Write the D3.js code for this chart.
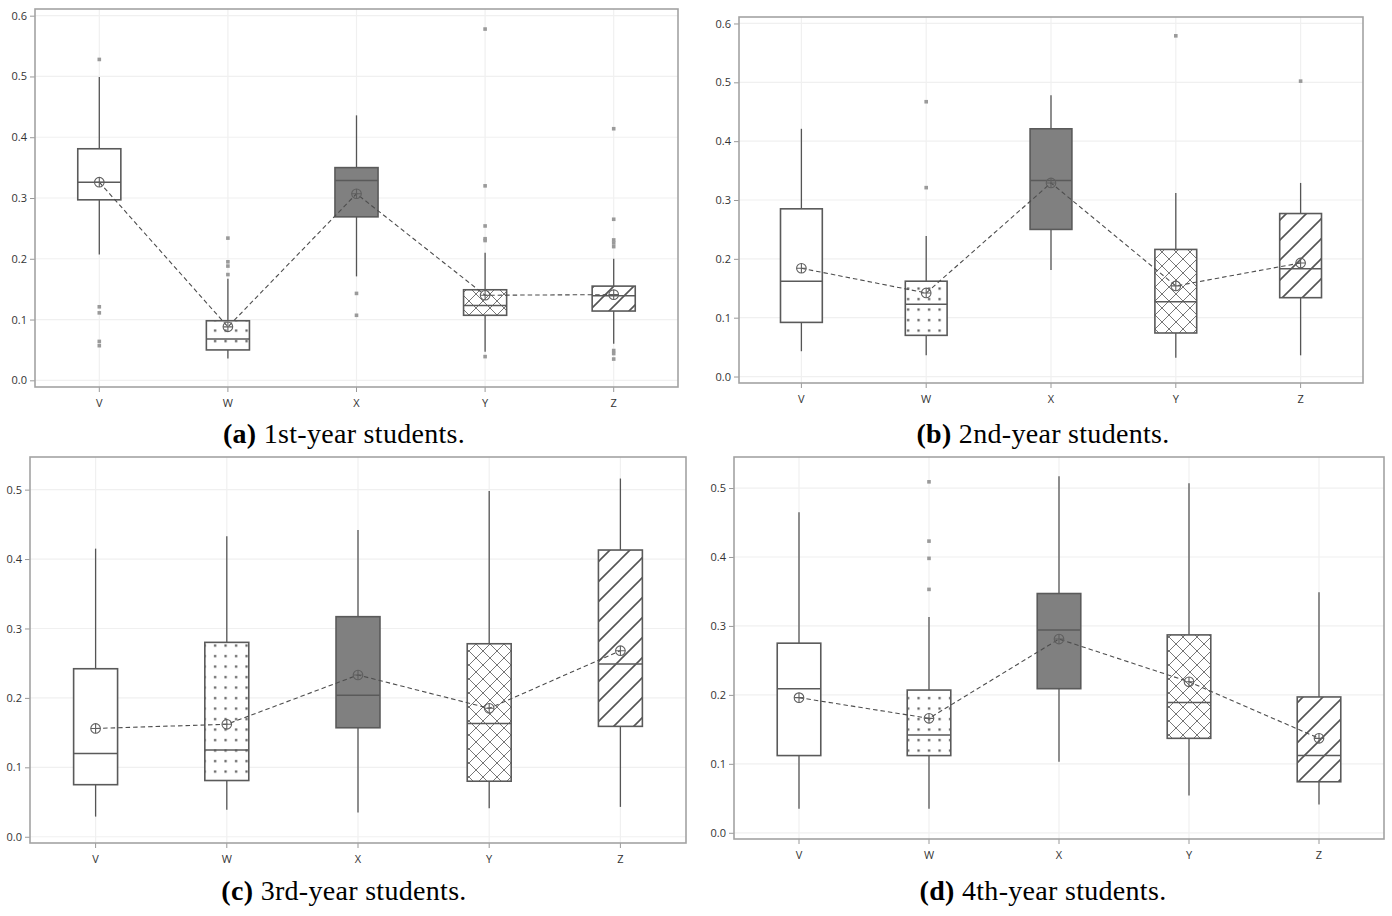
<!DOCTYPE html>
<html>
  <head>
    <meta charset="utf-8">
    <title>Box plots by year</title>
    <style>
      body { margin: 0; background: #fff; }
      .tick-label { font-family: "Open Sans", "DejaVu Sans", sans-serif; font-size: 11px; fill: #333; }
      .caption { font-family: "Liberation Serif", "Times New Roman", serif; font-size: 28px; letter-spacing: 0.3px; fill: #000; }
    </style>
  </head>
  <body>
    <svg id="chart" width="1392" height="916"></svg>
    <script src="https://d3js.org/d3.v7.min.js"></script>
    <script>
      // categories shared by all four panels
      const categories = ["V", "W", "X", "Y", "Z"];
      const fills = ["none", "url(#dots)", "#808080", "url(#cross)", "url(#hatch)"];

      // (a) 1st-year
      const lowA  = [0.207, 0.036, 0.171, 0.047, 0.060];
      const q1A   = [0.297, 0.050, 0.269, 0.107, 0.114];
      const medA  = [0.326, 0.068, 0.329, 0.123, 0.139];
      const q3A   = [0.381, 0.098, 0.350, 0.149, 0.155];
      const highA = [0.499, 0.167, 0.436, 0.210, 0.200];
      const meanA = [0.326, 0.088, 0.307, 0.140, 0.141];
      const outA  = [[0.528, 0.121, 0.111, 0.064, 0.057], [0.234, 0.195, 0.188, 0.174], [0.143, 0.107],
                     [0.578, 0.320, 0.254, 0.233, 0.230, 0.039], [0.414, 0.265, 0.231, 0.226, 0.220, 0.049, 0.044, 0.035]];

      // (b) 2nd-year
      const lowB  = [0.043, 0.036, 0.181, 0.032, 0.036];
      const q1B   = [0.092, 0.070, 0.250, 0.074, 0.134];
      const medB  = [0.162, 0.123, 0.333, 0.127, 0.183];
      const q3B   = [0.285, 0.162, 0.421, 0.216, 0.277];
      const highB = [0.421, 0.239, 0.478, 0.312, 0.329];
      const meanB = [0.184, 0.142, 0.329, 0.154, 0.193];
      const outB  = [[], [0.467, 0.321], [], [0.579], [0.502]];

      // (c) 3rd-year
      const lowC  = [0.029, 0.039, 0.035, 0.041, 0.043];
      const q1C   = [0.075, 0.081, 0.157, 0.080, 0.159];
      const medC  = [0.120, 0.125, 0.204, 0.163, 0.249];
      const q3C   = [0.242, 0.280, 0.317, 0.278, 0.413];
      const highC = [0.415, 0.433, 0.442, 0.498, 0.516];
      const meanC = [0.156, 0.162, 0.233, 0.185, 0.268];
      const outC  = [[], [], [], [], []];

      // (d) 4th-year
      const lowD  = [0.035, 0.035, 0.103, 0.054, 0.041];
      const q1D   = [0.112, 0.112, 0.209, 0.137, 0.074];
      const medD  = [0.209, 0.142, 0.294, 0.189, 0.112];
      const q3D   = [0.275, 0.207, 0.347, 0.287, 0.197];
      const highD = [0.465, 0.313, 0.517, 0.507, 0.349];
      const meanD = [0.196, 0.166, 0.281, 0.219, 0.137];
      const outD  = [[], [0.509, 0.423, 0.398, 0.353], [], [], []];

      const ticksAB = [0, 0.1, 0.2, 0.3, 0.4, 0.5, 0.6];
      const ticksCD = [0, 0.1, 0.2, 0.3, 0.4, 0.5];

      const panels = [
        { tag: "(a)", text: " 1st-year students.", box: [35, 9, 678, 387], dom: [-0.011, 0.611], ticks: ticksAB, capX: 344, capY: 443,
          low: lowA, q1: q1A, med: medA, q3: q3A, high: highA, mean: meanA, out: outA },
        { tag: "(b)", text: " 2nd-year students.", box: [739, 17, 1363, 383], dom: [-0.011, 0.611], ticks: ticksAB, capX: 1043, capY: 443,
          low: lowB, q1: q1B, med: medB, q3: q3B, high: highB, mean: meanB, out: outB },
        { tag: "(c)", text: " 3rd-year students.", box: [30, 457, 686, 843], dom: [-0.009, 0.547], ticks: ticksCD, capX: 344, capY: 900,
          low: lowC, q1: q1C, med: medC, q3: q3C, high: highC, mean: meanC, out: outC },
        { tag: "(d)", text: " 4th-year students.", box: [734, 457, 1384, 839], dom: [-0.009, 0.545], ticks: ticksCD, capX: 1043, capY: 900,
          low: lowD, q1: q1D, med: medD, q3: q3D, high: highD, mean: meanD, out: outD }
      ];

      const svg = d3.select("#chart");
      svg.append("rect").attr("width", 1392).attr("height", 916).attr("fill", "#fff");

      // fill patterns
      const defs = svg.append("defs");
      const dots = defs.append("pattern").attr("id", "dots").attr("patternUnits", "userSpaceOnUse")
        .attr("width", 10.5).attr("height", 10.5);
      dots.append("rect").attr("width", 10.5).attr("height", 10.5).attr("fill", "#fff");
      dots.append("rect").attr("x", 4).attr("y", 4).attr("width", 2.2).attr("height", 2.2).attr("fill", "#555");

      const cross = defs.append("pattern").attr("id", "cross").attr("patternUnits", "userSpaceOnUse")
        .attr("width", 14).attr("height", 14);
      cross.append("rect").attr("width", 14).attr("height", 14).attr("fill", "#fff");
      cross.append("path").attr("d", "M0,0L14,14M14,0L0,14M-7,7L7,21M7,-7L21,7M-7,7L7,-7M7,21L21,7")
        .attr("stroke", "#666").attr("stroke-width", 0.9);

      const hatch = defs.append("pattern").attr("id", "hatch").attr("patternUnits", "userSpaceOnUse")
        .attr("width", 20).attr("height", 20);
      hatch.append("rect").attr("width", 20).attr("height", 20).attr("fill", "#fff");
      hatch.append("path").attr("d", "M0,20L20,0M-10,10L10,-10M10,30L30,10")
        .attr("stroke", "#555").attr("stroke-width", 1.6);

      panels.forEach(p => {
        const [x0, y0, x1, y1] = p.box;
        const x = d3.scaleBand().domain(categories).range([x0, x1]).padding(0);
        const y = d3.scaleLinear().domain(p.dom).range([y1, y0]);
        const bw = x.step() * 0.335;
        const cx = c => x(c) + x.bandwidth() / 2;
        const g = svg.append("g");

        // grid
        g.selectAll(".hgrid").data(p.ticks).join("line")
          .attr("x1", x0).attr("x2", x1).attr("y1", d => y(d)).attr("y2", d => y(d))
          .attr("stroke", "#f0f0f0").attr("stroke-width", 1.2);
        g.selectAll(".vgrid").data(categories).join("line")
          .attr("x1", cx).attr("x2", cx).attr("y1", y0).attr("y2", y1)
          .attr("stroke", "#f0f0f0").attr("stroke-width", 1.2);

        // axes
        const yAxis = g.append("g").attr("transform", `translate(${x0},0)`)
          .call(d3.axisLeft(y).tickValues(p.ticks).tickFormat(d3.format(".1f")).tickSize(5).tickPadding(3));
        const xAxis = g.append("g").attr("transform", `translate(0,${y1})`)
          .call(d3.axisBottom(x).tickSize(5).tickPadding(7));
        [yAxis, xAxis].forEach(a => {
          a.select(".domain").remove();
          a.selectAll("line").attr("stroke", "#999");
          a.selectAll("text").attr("class", "tick-label");
        });

        // whiskers
        categories.forEach((c, i) => {
          g.append("line").attr("x1", cx(c)).attr("x2", cx(c))
            .attr("y1", y(p.high[i])).attr("y2", y(p.q3[i]))
            .attr("stroke", "#555").attr("stroke-width", 1.3);
          g.append("line").attr("x1", cx(c)).attr("x2", cx(c))
            .attr("y1", y(p.q1[i])).attr("y2", y(p.low[i]))
            .attr("stroke", "#555").attr("stroke-width", 1.3);
        });

        // boxes
        g.selectAll(".box").data(categories).join("rect")
          .attr("x", c => cx(c) - bw / 2).attr("width", bw)
          .attr("y", (c, i) => y(p.q3[i])).attr("height", (c, i) => y(p.q1[i]) - y(p.q3[i]))
          .attr("fill", (c, i) => fills[i] === "none" ? "#fff" : fills[i])
          .attr("stroke", "#5a5a5a").attr("stroke-width", 1.6);
        g.selectAll(".med").data(categories).join("line")
          .attr("x1", c => cx(c) - bw / 2).attr("x2", c => cx(c) + bw / 2)
          .attr("y1", (c, i) => y(p.med[i])).attr("y2", (c, i) => y(p.med[i]))
          .attr("stroke", "#5a5a5a").attr("stroke-width", 1.5);

        // outliers
        categories.forEach((c, i) => {
          g.selectAll(null).data(p.out[i]).join("rect")
            .attr("x", cx(c) - 1.8).attr("y", d => y(d) - 1.8)
            .attr("width", 3.6).attr("height", 3.6).attr("fill", "#9a9a9a");
        });

        // mean line
        const line = d3.line().x((d, i) => cx(categories[i])).y(d => y(d));
        g.append("path").attr("d", line(p.mean)).attr("fill", "none")
          .attr("stroke", "#4d4d4d").attr("stroke-width", 1.1).attr("stroke-dasharray", "4.5,3");

        // mean markers
        categories.forEach((c, i) => {
          const mx = cx(c), my = y(p.mean[i]), r = 4.8;
          g.append("circle").attr("cx", mx).attr("cy", my).attr("r", r)
            .attr("fill", "none").attr("stroke", "#5f5f5f").attr("stroke-width", 1.1);
          g.append("path").attr("d", `M${mx - r},${my}H${mx + r}M${mx},${my - r}V${my + r}`)
            .attr("stroke", "#5f5f5f").attr("stroke-width", 1.1);
        });

        // frame
        g.append("rect").attr("x", x0).attr("y", y0).attr("width", x1 - x0).attr("height", y1 - y0)
          .attr("fill", "none").attr("stroke", "#a3a3a3").attr("stroke-width", 1.6);

        // caption
        const cap = svg.append("text").attr("class", "caption")
          .attr("x", p.capX).attr("y", p.capY).attr("text-anchor", "middle");
        cap.append("tspan").attr("font-weight", "bold").text(p.tag);
        cap.append("tspan").text(p.text);
      });
    </script>
  </body>
</html>
